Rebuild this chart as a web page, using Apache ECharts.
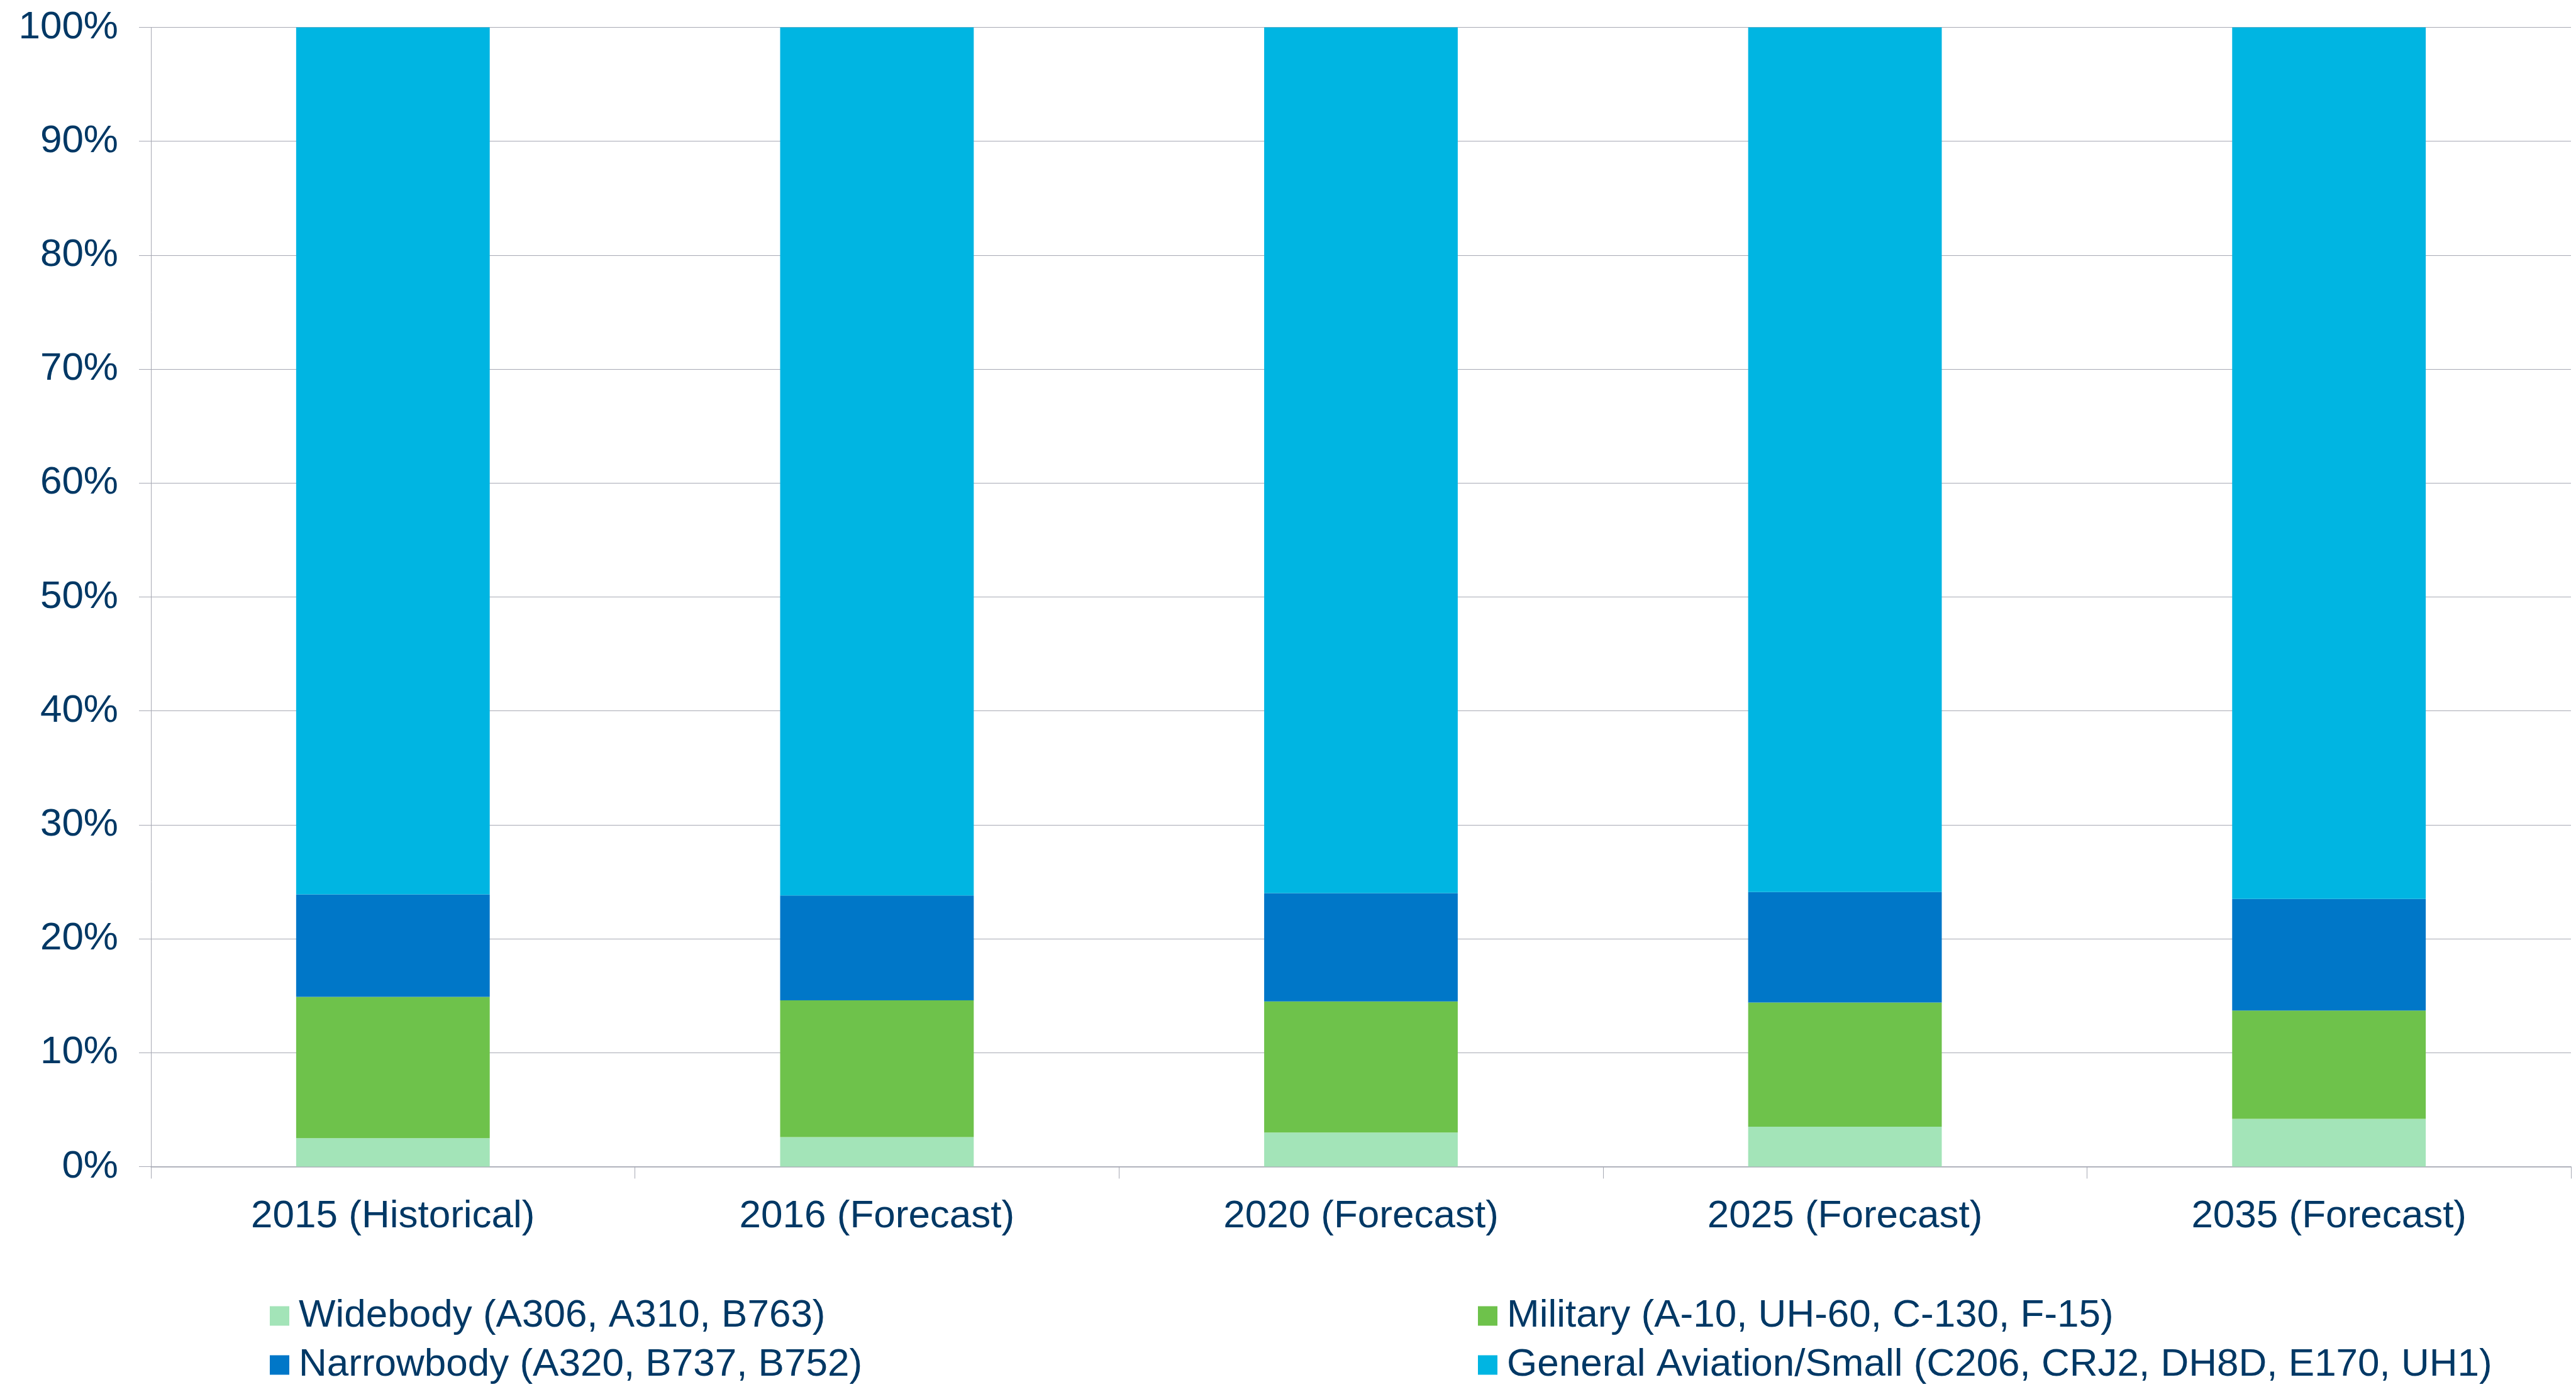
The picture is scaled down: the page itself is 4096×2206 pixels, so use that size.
<!DOCTYPE html>
<html>
<head>
<meta charset="utf-8">
<script src="https://cdn.jsdelivr.net/npm/echarts@6/dist/echarts.min.js"></script>
<style>
html,body{margin:0;padding:0;background:#fff;}
#chart{width:4096px;height:2206px;}
</style>
</head>
<body>
<div id="chart"></div>
<script>
const categories = ['2015 (Historical)', '2016 (Forecast)', '2020 (Forecast)', '2025 (Forecast)', '2035 (Forecast)'];
const widebody = [2.5, 2.6, 3.0, 3.5, 4.2];
const military = [12.4, 12.0, 11.5, 10.9, 9.5];
const narrowbody = [9.0, 9.2, 9.5, 9.7, 9.8];
const generalAviation = [76.1, 76.2, 76.0, 75.9, 76.5];
const seriesNames = ['Widebody (A306, A310, B763)', 'Military (A-10, UH-60, C-130, F-15)', 'Narrowbody (A320, B737, B752)', 'General Aviation/Small (C206, CRJ2, DH8D, E170, UH1)'];
const colors = ['#A3E4B8', '#6EC24B', '#0077C8', '#00B5E2'];

const textColor = '#003865';
const gridColor = '#A7A9B4';
const font = 'Liberation Sans, Arial, sans-serif';

const chart = echarts.init(document.getElementById('chart'));
const dataSets = [widebody, military, narrowbody, generalAviation];
// legend slot positions: [left, top] for each series
const legendSlots = [[429, 2062], [2350, 2062], [429, 2140], [2350, 2140]];
const legends = seriesNames.map((name, i) => ({
  orient: 'horizontal',
  left: legendSlots[i][0],
  top: legendSlots[i][1],
  icon: 'rect',
  itemWidth: 31,
  itemHeight: 31,
  itemGap: 0,
  padding: 0,
  selectedMode: false,
  data: [name],
  textStyle: { color: textColor, fontSize: 62, fontFamily: font, padding: [0, 0, 0, 10] }
}));
chart.setOption({
  animation: false,
  backgroundColor: '#fff',
  grid: { left: 240, right: 8, top: 43.5, bottom: 350.5, containLabel: false },
  legend: legends,
  xAxis: {
    type: 'category',
    data: categories,
    boundaryGap: true,
    axisLine: { show: true, lineStyle: { color: gridColor, width: 1.5 } },
    axisTick: { show: true, length: 19, lineStyle: { color: gridColor, width: 1 } },
    axisLabel: { color: textColor, fontSize: 62, fontFamily: font, margin: 48 }
  },
  yAxis: {
    type: 'value',
    min: 0,
    max: 100,
    interval: 10,
    axisLine: { show: true, lineStyle: { color: gridColor, width: 1 } },
    axisTick: { show: true, length: 19, lineStyle: { color: gridColor, width: 1 } },
    splitLine: { show: true, lineStyle: { color: gridColor, width: 1 } },
    axisLabel: { color: textColor, fontSize: 62, fontFamily: font, margin: 52, formatter: '{value}%' }
  },
  series: dataSets.map((d, i) => ({
    name: seriesNames[i],
    type: 'bar',
    stack: 'total',
    barWidth: '40%',
    itemStyle: { color: colors[i] },
    data: d
  }))
});
</script>
</body>
</html>
